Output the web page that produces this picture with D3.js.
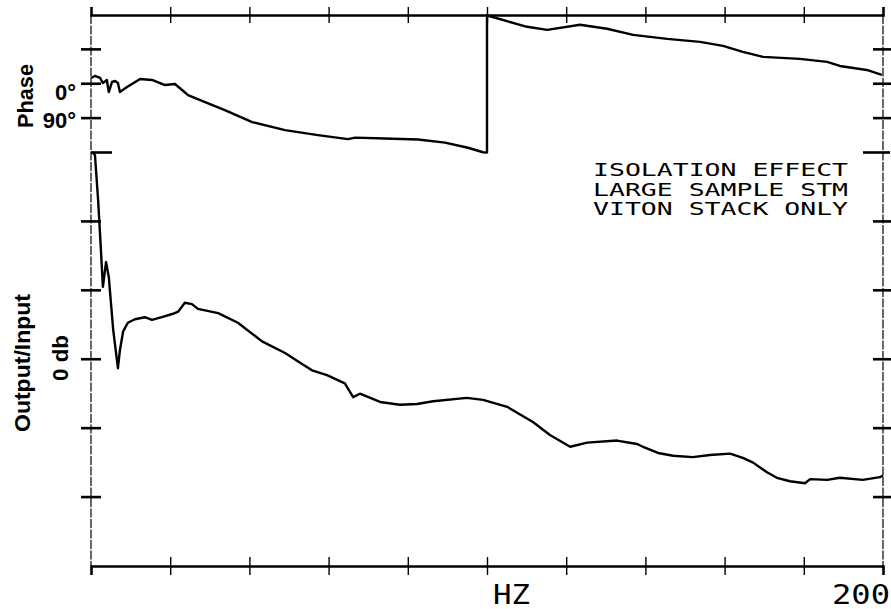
<!DOCTYPE html>
<html>
<head>
<meta charset="utf-8">
<script src="https://cdn.jsdelivr.net/npm/d3@7"></script>
<style>
  body { margin: 0; background: #fff; }
  svg { display: block; }
</style>
</head>
<body>
<svg id="chart" width="891" height="609"></svg>
<script>
// frequency in Hz, phase in degrees (wraps from -180 to +180 near 100 Hz)
var phaseHz  = [0, 1.0, 2.3, 3.0, 4.0, 4.5, 5.3, 6.1, 6.8, 7.3, 9.1, 12.4, 15.4, 18.7, 21.2, 23.0, 24.5, 28.8, 33.8, 40.7, 49.0, 57.3, 64.9, 66.7, 74.2, 82.6, 89.4, 95.2, 99.0, 100.0,
                100.0, 100.3, 110.1, 115.2, 123.5, 130.3, 136.9, 145.5, 153.8, 159.6, 164.6, 169.7, 179.0, 185.9, 189.1, 195.9, 199.7];
var phaseDeg = [15.1, 20.4, 15.1, 2.0, 9.9, -21.7, 4.6, 7.2, 2.0, -21.7, -8.5, 12.5, 9.9, -3.3, -0.7, -16.4, -29.6, -48.0, -69.0, -100.5, -121.5, -134.6, -145.0, -141.0, -143.5, -146.0, -154.0, -167.5, -179.3, -180,
                180, 178, 149.1, 141.2, 154.4, 143.9, 128.1, 117.6, 109.7, 99.2, 83.4, 70.3, 65.0, 57.2, 46.6, 36.1, 23.0];

// output/input magnitude in db
var magHz = [0.5, 1.0, 1.8, 2.5, 3.0, 3.8, 4.5, 5.6, 6.8, 7.3, 8.1, 9.3, 11.1, 13.6, 15.4, 17.9, 20.7, 22.0, 23.7, 25.5, 27.0, 32.1, 37.1, 43.2, 49.0, 52.8, 55.8, 59.6, 64.1, 66.2, 67.9, 73.0, 78.0, 82.3, 86.4, 94.9, 99.0,
             105.1, 111.6, 115.9, 121.0, 125.3, 132.8, 137.9, 139.4, 143.2, 147.0, 152.0, 156.3, 161.4, 164.6, 167.2, 170.7, 173.2, 176.5, 180.3, 181.6, 185.9, 189.1, 194.9, 199.2, 200];
var magDb = [30, 29.6, 23.1, 15.9, 10.5, 14.1, 11.9, 4.3, -1.3, 1.3, 4.0, 5.3, 5.8, 6.1, 5.7, 6.1, 6.6, 6.9, 8.2, 8.0, 7.3, 6.7, 5.3, 2.6, 0.9, -0.5, -1.6, -2.3, -3.5, -5.5, -5.0, -6.2, -6.6, -6.5, -6.1, -5.6, -5.9,
             -6.9, -9.1, -11.0, -12.7, -12.1, -11.8, -12.3, -12.7, -13.6, -14.0, -14.2, -13.9, -13.7, -14.3, -15.0, -16.4, -17.2, -17.7, -18.0, -17.4, -17.5, -17.2, -17.5, -17.1, -16.9];

var xTicks = [20, 40, 60, 80, 100, 120, 140, 160, 180];
var phaseTicks = [-90, 0, 90];
var magTicks = [-20, -10, 0, 10, 20];
var noteLines = ["ISOLATION EFFECT", "LARGE SAMPLE STM", "VITON STACK ONLY"];

var svg = d3.select("#chart");
// note: "top" is reserved on window, so plot edges get their own names
var plotL = 91, plotR = 883, plotT = 15, plotB = 566, split = 152.5;

var x = d3.scaleLinear().domain([0, 200]).range([plotL, plotR]);
var yPhase = d3.scaleLinear().domain([-180, 180]).range([split, plotT]);
var yMag = d3.scaleLinear().domain([-30, 30]).range([plotB, split]);

// top & bottom axes, ticks crossing the line
var topAx = svg.append("g").attr("transform", "translate(0," + plotT + ")")
  .call(d3.axisTop(x).tickValues(xTicks).tickSizeOuter(0).tickSize(8).tickFormat(""));
topAx.selectAll(".tick line").attr("y1", 8).attr("stroke-width", 1.4);
topAx.select(".domain").attr("stroke-width", 2.6);

var botAx = svg.append("g").attr("transform", "translate(0," + plotB + ")")
  .call(d3.axisBottom(x).tickValues(xTicks).tickSizeOuter(0).tickSize(9).tickFormat(""));
botAx.selectAll(".tick line").attr("y1", -9).attr("stroke-width", 1.4);
botAx.select(".domain").attr("stroke-width", 2.6);

// side frame lines (thin plotter lines)
[plotL, plotR].forEach(function(px){
  svg.append("line")
    .attr("x1", px).attr("x2", px).attr("y1", plotT).attr("y2", plotB)
    .attr("stroke", "#000").attr("stroke-width", 1.2)
    .attr("stroke-dasharray", "9,1.5");
});

function sideTicks(scale, vals, px, a, b){
  svg.append("g").selectAll("line").data(vals).enter().append("line")
    .attr("x1", px + a).attr("x2", px + b)
    .attr("y1", function(d){ return scale(d); })
    .attr("y2", function(d){ return scale(d); })
    .attr("stroke", "#000").attr("stroke-width", 2.6);
}
sideTicks(yPhase, phaseTicks, plotL, -10, 10);
sideTicks(yMag, magTicks, plotL, -10, 10);
sideTicks(yMag, [30], plotL, 0, 21);
sideTicks(yPhase, phaseTicks, plotR, -10, 8);
sideTicks(yMag, magTicks, plotR, -10, 8);
sideTicks(yMag, [30], plotR, -20, 7);

// curves
var phaseData = phaseHz.map(function(h, i){ return {hz: h, v: phaseDeg[i]}; });
var magData = magHz.map(function(h, i){ return {hz: h, v: magDb[i]}; });

svg.append("path").datum(phaseData)
  .attr("d", d3.line().x(function(d){ return x(d.hz); }).y(function(d){ return yPhase(d.v); }))
  .attr("fill", "none").attr("stroke", "#000").attr("stroke-width", 2.4)
  .attr("stroke-linejoin", "round");

svg.append("path").datum(magData)
  .attr("d", d3.line().x(function(d){ return x(d.hz); }).y(function(d){ return yMag(d.v); }))
  .attr("fill", "none").attr("stroke", "#000").attr("stroke-width", 2.4)
  .attr("stroke-linejoin", "round");

// left labels
var sans = "'Liberation Sans', Arial, sans-serif";
svg.append("text").attr("transform", "translate(33,96) rotate(-90)")
  .attr("text-anchor", "middle").style("font-family", sans).style("font-size", "22px").style("font-weight", "bold")
  .attr("textLength", 64).attr("lengthAdjust", "spacingAndGlyphs").text("Phase");
svg.append("text").attr("transform", "translate(30,363) rotate(-90)")
  .attr("text-anchor", "middle").style("font-family", sans).style("font-size", "22px").style("font-weight", "bold")
  .attr("textLength", 138).attr("lengthAdjust", "spacingAndGlyphs").text("Output/Input");
svg.append("text").attr("transform", "translate(68,358) rotate(-90)")
  .attr("text-anchor", "middle").style("font-family", sans).style("font-size", "22px").style("font-weight", "bold")
  .attr("textLength", 46).attr("lengthAdjust", "spacingAndGlyphs").text("0 db");
svg.append("text").attr("x", 76).attr("y", 100)
  .attr("text-anchor", "end").style("font-family", sans).style("font-size", "22px").style("font-weight", "bold").text("0°");
svg.append("text").attr("x", 76).attr("y", 128)
  .attr("text-anchor", "end").style("font-family", sans).style("font-size", "22px").style("font-weight", "bold").text("90°");

// plotter-style annotations
var mono = "'DejaVu Sans Mono', monospace";
svg.append("g").selectAll("text").data(noteLines).enter().append("text")
  .attr("x", 593).attr("y", function(d, i){ return 176 + i * 19.5; })
  .attr("textLength", 255).attr("lengthAdjust", "spacingAndGlyphs")
  .style("font-family", mono).style("font-size", "18px")
  .text(function(d){ return d; });

svg.append("text").attr("x", 493).attr("y", 604)
  .attr("textLength", 37).attr("lengthAdjust", "spacingAndGlyphs")
  .style("font-family", mono).style("font-size", "26px").text("HZ");
svg.append("text").attr("x", 832).attr("y", 604)
  .attr("textLength", 58).attr("lengthAdjust", "spacingAndGlyphs")
  .style("font-family", mono).style("font-size", "26px").text("200");
</script>
</body>
</html>
